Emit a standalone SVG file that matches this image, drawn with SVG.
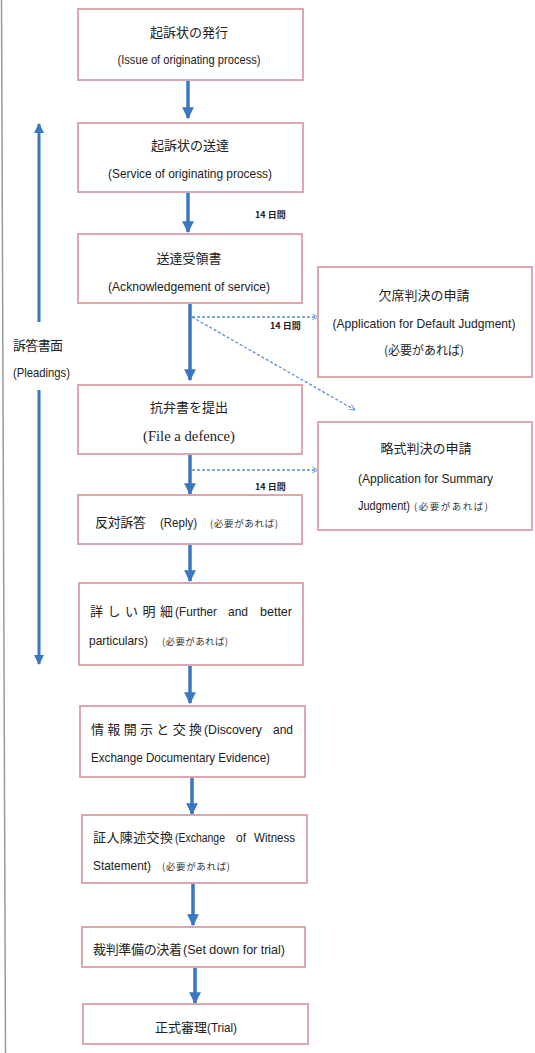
<svg xmlns="http://www.w3.org/2000/svg" width="535" height="1053" viewBox="0 0 535 1053">
<style>
.box{fill:#fff;stroke:#dba6ad;stroke-width:2}
.jp{font-family:"Noto Sans CJK JP","Noto Sans",sans-serif;font-size:13px;fill:#222}
.en{font-family:"Liberation Sans","Noto Sans",sans-serif;font-size:13px;fill:#222}
.sm{font-family:"Noto Sans CJK JP",sans-serif;font-size:9.5px;fill:#333}
.day{font-family:"Noto Sans CJK JP",sans-serif;font-size:9px;fill:#222;font-weight:bold}
.flow{stroke:#3b76c0;stroke-width:3.5;fill:none;marker-end:url(#ah)}
.dot{stroke:#5b8fd0;stroke-width:1.3;stroke-dasharray:3 2;fill:none;marker-end:url(#oh)}
</style>
<defs>
<marker id="ah" viewBox="0 0 10 10" refX="9" refY="5" markerWidth="3.4" markerHeight="3.4" orient="auto" markerUnits="strokeWidth">
<path d="M0,0 L10,5 L0,10 z" fill="#3b76c0"/>
</marker>
<marker id="oh" viewBox="0 0 10 10" refX="9" refY="5" markerWidth="7" markerHeight="7" orient="auto" markerUnits="userSpaceOnUse">
<path d="M1,1 L9,5 L1,9" fill="none" stroke="#5b8fd0" stroke-width="1.3"/>
</marker>
</defs>
<rect width="535" height="1053" fill="#fff"/>
<line x1="1.5" y1="0" x2="5.5" y2="1053" stroke="#9a9a9a" stroke-width="1.5"/>

<g id="connectors">
<line class="flow" x1="188" y1="80" x2="188" y2="118"/>
<line class="flow" x1="188" y1="192" x2="188" y2="232"/>
<line class="flow" x1="190" y1="304" x2="190" y2="380"/>
<line class="flow" x1="190" y1="455" x2="190" y2="494"/>
<line class="flow" x1="190" y1="545" x2="190" y2="581"/>
<line class="flow" x1="190" y1="666" x2="190" y2="703"/>
<line class="flow" x1="192" y1="778" x2="192" y2="814"/>
<line class="flow" x1="193" y1="884" x2="193" y2="925"/>
<line class="flow" x1="195" y1="968" x2="195" y2="1003"/>
<line class="flow" x1="39" y1="322" x2="39" y2="124" style="stroke-width:3"/>
<line class="flow" x1="39" y1="390" x2="39" y2="664" style="stroke-width:3"/>
<line class="dot" x1="192" y1="317" x2="318" y2="317"/>
<line class="dot" x1="192" y1="317" x2="355" y2="410"/>
<line class="dot" x1="192" y1="470" x2="318" y2="470"/>
<text class="day" x="255" y="218">14 日間</text>
<text class="day" x="270" y="329">14 日間</text>
<text class="day" x="255" y="490">14 日間</text>
</g>

<g id="pleadings">
<text class="jp" x="13" y="350" textLength="50">訴答書面</text>
<text class="en" x="13" y="377" textLength="57" lengthAdjust="spacingAndGlyphs">(Pleadings)</text>
</g>

<g id="n1">
<rect class="box" x="78" y="9" width="225" height="71"/>
<text class="jp" x="189" y="37" text-anchor="middle">起訴状の発行</text>
<text class="en" x="189" y="64" text-anchor="middle" textLength="143" lengthAdjust="spacingAndGlyphs">(Issue of originating process)</text>
</g>
<g id="n2">
<rect class="box" x="78" y="123" width="225" height="69"/>
<text class="jp" x="190" y="150" text-anchor="middle">起訴状の送達</text>
<text class="en" x="190" y="178" text-anchor="middle" textLength="164" lengthAdjust="spacingAndGlyphs">(Service of originating process)</text>
</g>
<g id="n3">
<rect class="box" x="78" y="234" width="224" height="69"/>
<text class="jp" x="189" y="263" text-anchor="middle">送達受領書</text>
<text class="en" x="189" y="291" text-anchor="middle" textLength="162" lengthAdjust="spacingAndGlyphs">(Acknowledgement of service)</text>
</g>
<g id="n_default">
<rect class="box" x="318" y="267" width="214" height="110"/>
<text class="jp" x="424" y="300" text-anchor="middle">欠席判決の申請</text>
<text class="en" x="424" y="328" text-anchor="middle" textLength="183" lengthAdjust="spacingAndGlyphs">(Application for Default Judgment)</text>
<text class="jp" x="424" y="355" text-anchor="middle" style="font-size:12px">(必要があれば)</text>
</g>
<g id="n4">
<rect class="box" x="78" y="385" width="224" height="69"/>
<text class="jp" x="189" y="412" text-anchor="middle">抗弁書を提出</text>
<text class="en" x="189" y="441" text-anchor="middle" textLength="92" lengthAdjust="spacingAndGlyphs" style="font-family:'Liberation Serif',serif;font-size:15px">(File a defence)</text>
</g>
<g id="n_summary">
<rect class="box" x="318" y="422" width="214" height="108"/>
<text class="jp" x="426" y="453" text-anchor="middle">略式判決の申請</text>
<text class="en" x="358" y="483" textLength="135" lengthAdjust="spacingAndGlyphs">(Application for Summary</text>
<text class="en" x="358" y="510" textLength="52" lengthAdjust="spacingAndGlyphs">Judgment)</text>
<text class="sm" x="414" y="510" textLength="74">(必要があれば)</text>
</g>
<g id="n5">
<rect class="box" x="78" y="495" width="224" height="49"/>
<text class="jp" x="95" y="527" textLength="51">反対訴答</text>
<text class="en" x="160" y="527" textLength="37" lengthAdjust="spacingAndGlyphs">(Reply)</text>
<text class="sm" x="210" y="527" textLength="68">(必要があれば)</text>
</g>
<g id="n6">
<rect class="box" x="79" y="583" width="224" height="82"/>
<text class="jp" x="90" y="616" textLength="83" lengthAdjust="spacing">詳しい明細</text>
<text class="en" x="175" y="616" textLength="42" lengthAdjust="spacingAndGlyphs">(Further</text>
<text class="en" x="228" y="616" textLength="20" lengthAdjust="spacingAndGlyphs">and</text>
<text class="en" x="260" y="616" textLength="32" lengthAdjust="spacingAndGlyphs">better</text>
<text class="en" x="89" y="645" textLength="59" lengthAdjust="spacingAndGlyphs">particulars)</text>
<text class="sm" x="162" y="645" textLength="66">(必要があれば)</text>
</g>
<g id="n7">
<rect class="box" x="80" y="706" width="225" height="71"/>
<text class="jp" x="91" y="734" textLength="111" lengthAdjust="spacing">情報開示と交換</text>
<text class="en" x="204" y="734" textLength="58" lengthAdjust="spacingAndGlyphs">(Discovery</text>
<text class="en" x="273" y="734" textLength="20" lengthAdjust="spacingAndGlyphs">and</text>
<text class="en" x="91" y="762" textLength="179" lengthAdjust="spacingAndGlyphs">Exchange Documentary Evidence)</text>
</g>
<g id="n8">
<rect class="box" x="82" y="815" width="225" height="68"/>
<text class="jp" x="93" y="842" textLength="80">証人陳述交換</text>
<text class="en" x="175" y="842" textLength="50" lengthAdjust="spacingAndGlyphs" style="font-size:12px">(Exchange</text>
<text class="en" x="236" y="842" textLength="10" lengthAdjust="spacingAndGlyphs" style="font-size:12px">of</text>
<text class="en" x="254" y="842" textLength="41" lengthAdjust="spacingAndGlyphs">Witness</text>
<text class="en" x="93" y="870" textLength="58" lengthAdjust="spacingAndGlyphs">Statement)</text>
<text class="sm" x="162" y="870" textLength="68">(必要があれば)</text>
</g>
<g id="n9">
<rect class="box" x="82" y="927" width="223" height="40"/>
<text class="jp" x="93" y="954" textLength="89">裁判準備の決着</text>
<text class="en" x="183" y="954" textLength="102" lengthAdjust="spacingAndGlyphs">(Set down for trial)</text>
</g>
<g id="n10">
<rect class="box" x="83" y="1004" width="225" height="40"/>
<text class="jp" x="155" y="1032" textLength="52">正式審理</text>
<text class="en" x="207" y="1032" textLength="30" lengthAdjust="spacingAndGlyphs">(Trial)</text>
</g>
</svg>
